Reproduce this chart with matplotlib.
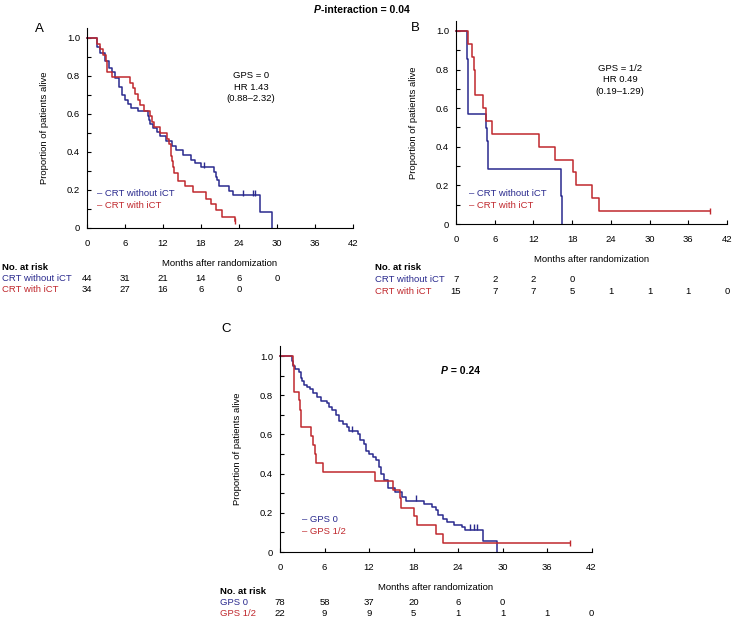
import matplotlib
matplotlib.use("Agg")
import matplotlib.pyplot as plt
import matplotlib.transforms as mtransforms
import numpy as np

plt.rcParams['font.family'] = ['Liberation Sans', 'DejaVu Sans']
plt.rcParams['font.size'] = 6.8

BLUE = '#2a2a8e'
RED = '#c0282d'

# ---- panel A: GPS = 0 ----
a_blue_t = [0, 1.5, 2.0, 2.8, 3.5, 4.0, 4.5, 5.0, 5.5, 6.0, 6.5, 7.0, 8.0, 9.6, 9.8, 10.0, 10.5,
            11.0, 11.5, 12.5, 13.5, 14.0, 15.2, 16.5, 17.0, 18.0, 20.0, 20.3, 20.6, 20.9, 22.4,
            23.1, 27.3, 29.2]
a_blue_s = [1.0, 0.955, 0.92, 0.877, 0.84, 0.82, 0.79, 0.74, 0.70, 0.675, 0.65, 0.63, 0.615, 0.59,
            0.57, 0.545, 0.526, 0.503, 0.482, 0.456, 0.43, 0.41, 0.386, 0.36, 0.34, 0.32, 0.295,
            0.27, 0.25, 0.22, 0.195, 0.172, 0.086, 0.0]
a_blue_cens_t = [18.4, 24.7, 26.2, 26.5]
a_red_t = [0, 1.5, 2.0, 2.5, 3.0, 3.1, 3.2, 4.0, 6.8, 7.3, 7.6, 8.0, 8.3, 9.0, 10.0, 10.3, 10.6,
           11.5, 12.6, 13.0, 13.2, 13.3, 13.5, 13.6, 13.7, 14.3, 15.4, 16.7, 18.8, 19.6, 20.4,
           21.3, 23.3]
a_red_s = [1.0, 0.97, 0.94, 0.91, 0.88, 0.85, 0.82, 0.795, 0.765, 0.735, 0.705, 0.675, 0.645,
           0.615, 0.59, 0.56, 0.53, 0.50, 0.47, 0.44, 0.41, 0.38, 0.35, 0.32, 0.29, 0.245, 0.22,
           0.19, 0.155, 0.125, 0.096, 0.06, 0.035]
a_red_end = 23.3
a_blue_risk = [44, 31, 21, 14, 6, 0]
a_red_risk = [34, 27, 16, 6, 0]

# ---- panel B: GPS = 1/2 ----
b_blue_t = [0, 1.7, 1.8, 1.9, 4.7, 4.8, 4.9, 16.3, 16.5]
b_blue_s = [1.0, 0.857, 0.714, 0.571, 0.5, 0.429, 0.286, 0.143, 0.0]
b_red_t = [0, 1.9, 2.5, 2.8, 2.9, 3.0, 4.2, 4.7, 5.6, 12.9, 15.3, 18.1, 18.6, 21.1, 22.2]
b_red_s = [1.0, 0.933, 0.867, 0.80, 0.733, 0.667, 0.60, 0.533, 0.467, 0.40, 0.333, 0.267, 0.20,
           0.133, 0.067]
b_red_end = 39.3
b_blue_risk = [7, 2, 2, 0]
b_red_risk = [15, 7, 7, 5, 1, 1, 1, 0]

# ---- panel C: GPS 0 vs GPS 1/2 ----
c_blue_t = [0, 1.6, 1.8, 2.0, 2.5, 2.8, 3.0, 3.3, 3.7, 4.0, 4.5, 5.0, 5.5, 6.3, 6.6, 7.0, 7.5,
            8.0, 8.5, 9.0, 9.3, 10.5, 10.8, 11.3, 11.6, 12.0, 12.5, 13.0, 13.3, 13.6, 14.0, 14.5,
            15.5, 16.5, 17.0, 19.4, 20.5, 21.0, 21.3, 22.0, 22.5, 23.5, 24.5, 25.0, 27.4, 29.3]
c_blue_s = [1.0, 0.975, 0.95, 0.934, 0.92, 0.89, 0.87, 0.852, 0.84, 0.83, 0.81, 0.79, 0.77,
            0.76, 0.74, 0.725, 0.70, 0.67, 0.655, 0.64, 0.615, 0.60, 0.57, 0.55, 0.515, 0.50,
            0.485, 0.47, 0.436, 0.40, 0.365, 0.327, 0.304, 0.283, 0.262, 0.246, 0.232, 0.216,
            0.19, 0.17, 0.151, 0.139, 0.127, 0.114, 0.058, 0.0]
c_blue_cens_t = [9.7, 18.4, 25.6, 26.2, 26.5]
c_red_t = [0, 1.8, 1.85, 1.9, 2.5, 2.7, 2.8, 4.2, 4.5, 4.7, 4.9, 5.8, 12.8, 15.3, 16.2, 16.3,
           18.1, 18.5, 21.0, 22.0]
c_red_s = [1.0, 0.955, 0.909, 0.818, 0.773, 0.727, 0.636, 0.591, 0.545, 0.50, 0.455, 0.409,
           0.364, 0.318, 0.273, 0.227, 0.182, 0.136, 0.091, 0.045]
c_red_end = 39.1
c_blue_risk = [78, 58, 37, 20, 6, 0]
c_red_risk = [22, 9, 9, 5, 1, 1, 1, 0]

xticks = [0, 6, 12, 18, 24, 30, 36, 42]

W, H = 733, 618
fig = plt.figure(figsize=(W / 100, H / 100), dpi=100)


def px_axes(x0, x42, y0, y1):
    # axes box from pixel positions of x=0, x=42, y=0 and y=1.0
    top = y0 - (y0 - y1) * 1.05
    return fig.add_axes([x0 / W, (H - y0) / H, (x42 - x0) / W, (y0 - top) / H])


def style_axes(ax, letter, lx, ly):
    ax.set_xlim(0, 42)
    ax.set_ylim(0, 1.05)
    ax.spines['top'].set_visible(False)
    ax.spines['right'].set_visible(False)
    ax.set_xticks(xticks)
    ax.set_yticks([0, 0.2, 0.4, 0.6, 0.8, 1.0])
    ax.set_yticklabels(['0', '0.2', '0.4', '0.6', '0.8', '1.0'])
    ax.set_yticks(np.arange(0.1, 1.0, 0.2), minor=True)
    ax.tick_params(direction='in', length=3, width=0.8, labelsize=6.8)
    ax.tick_params(axis='x', pad=8)
    ax.tick_params(axis='y', pad=5)
    ax.tick_params(axis='y', which='minor', direction='in', length=3, width=0.8)
    ax.set_ylabel('Proportion of patients alive', fontsize=6.8, labelpad=13)
    ax.set_xlabel('Months after randomization', fontsize=6.8, labelpad=8)
    fig.text(lx / W, 1 - ly / H, letter, fontsize=9.5, va='center', ha='left')


def km(ax, t, s, color, end=None, cens=None):
    tt = list(t)
    ss = list(s)
    if end is not None:
        tt.append(end)
        ss.append(ss[-1])
    ax.step(tt, ss, where='post', color=color, lw=1.1, clip_on=False)
    if end is not None:
        ax.plot([end], [ss[-1]], marker='|', color=color, ms=5, mew=1)
    if cens is not None:
        for c in cens:
            v = ss[np.searchsorted(tt, c, side='right') - 1]
            ax.plot([c], [v + 0.012], marker='|', color=color, ms=4, mew=1)


def risk_table(ax, x_label, y_head, names, rows, colors):
    tr = mtransforms.blended_transform_factory(ax.transData, fig.transFigure)
    fig.text(x_label / W, 1 - y_head / H, 'No. at risk', fontweight='bold', va='center')
    for i, (name, row, col) in enumerate(zip(names, rows, colors)):
        y = 1 - (y_head + 11.5 * (i + 1)) / H
        fig.text(x_label / W, y, name, color=col, va='center')
        for xt, n in zip(xticks, row):
            ax.text(xt, y, str(n), transform=tr, ha='center', va='center')


def legend(ax, x, y, names):
    for i, (name, col) in enumerate(zip(names, [BLUE, RED])):
        fig.text(x / W, 1 - (y + 12 * i) / H, '\u2013 ' + name, color=col, va='center')


# panel A
axA = px_axes(87, 353, 228, 38)
style_axes(axA, 'A', 35, 29)
km(axA, a_blue_t, a_blue_s, BLUE, cens=a_blue_cens_t)
km(axA, a_red_t, a_red_s, RED, end=a_red_end)
legend(axA, 97, 193, ['CRT without iCT', 'CRT with iCT'])
axA.text(25.9, 0.825, 'GPS = 0\nHR 1.43\n(0.88\u20132.32)', ha='center', va='top',
         linespacing=1.35)
risk_table(axA, 2, 267, ['CRT without iCT', 'CRT with iCT'], [a_blue_risk, a_red_risk], [BLUE, RED])

# panel B
axB = px_axes(456, 727, 224, 31)
style_axes(axB, 'B', 411, 28)
km(axB, b_blue_t, b_blue_s, BLUE)
km(axB, b_red_t, b_red_s, RED, end=b_red_end)
legend(axB, 469, 193, ['CRT without iCT', 'CRT with iCT'])
axB.text(25.4, 0.83, 'GPS = 1/2\nHR 0.49\n(0.19\u20131.29)', ha='center', va='top',
         linespacing=1.35)
risk_table(axB, 375, 268, ['CRT without iCT', 'CRT with iCT'], [b_blue_risk, b_red_risk], [BLUE, RED])

# panel C
axC = px_axes(280, 591.5, 552, 356)
style_axes(axC, 'C', 221, 329)
km(axC, c_blue_t, c_blue_s, BLUE, cens=c_blue_cens_t)
km(axC, c_red_t, c_red_s, RED, end=c_red_end)
legend(axC, 302, 519, ['GPS 0', 'GPS 1/2'])
fig.text(448 / W, 1 - 371 / H, 'P', fontweight='bold', fontstyle='italic', ha='right', va='center',
         fontsize=7.5)
fig.text(448 / W, 1 - 371 / H, ' = 0.24', fontweight='bold', ha='left', va='center', fontsize=7.5)
risk_table(axC, 220, 591, ['GPS 0', 'GPS 1/2'], [c_blue_risk, c_red_risk], [BLUE, RED])

# overall title
fig.text(321 / W, 1 - 10 / H, 'P', fontweight='bold', fontstyle='italic', ha='right', va='center',
         fontsize=7.5)
fig.text(321 / W, 1 - 10 / H, '-interaction = 0.04', fontweight='bold', ha='left', va='center',
         fontsize=7.5)

fig.savefig('out.png', dpi=100)
